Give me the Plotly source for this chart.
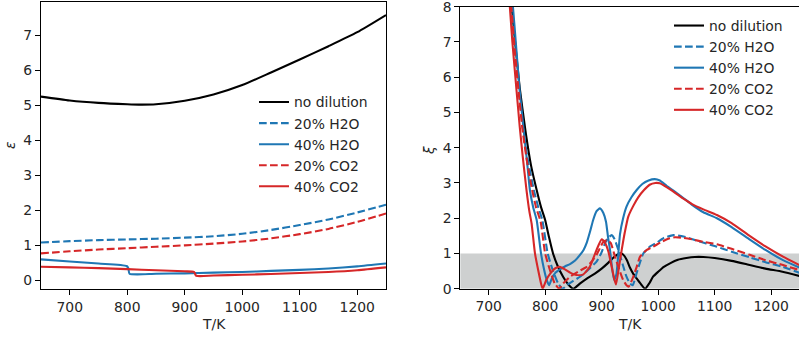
import plotly.graph_objects as go

# ---------------- data: left panel (epsilon vs T) ----------------
T_nodil_L = [650, 700, 750, 800, 820, 850, 900, 950, 1000, 1050, 1100, 1150, 1200, 1250]
eps_nodil = [5.24, 5.13, 5.06, 5.02, 5.01, 5.02, 5.12, 5.30, 5.57, 5.93, 6.30, 6.68, 7.08, 7.57]

T_h2o20_L = [650, 700, 750, 800, 850, 900, 950, 1000, 1050, 1100, 1150, 1200, 1250]
eps_h2o20 = [1.07, 1.11, 1.14, 1.16, 1.18, 1.21, 1.25, 1.32, 1.43, 1.57, 1.73, 1.93, 2.15]

T_h2o40_L = [650, 700, 750, 799, 802, 804, 850, 900, 950, 1000, 1050, 1100, 1150, 1200, 1250]
eps_h2o40 = [0.59, 0.53, 0.47, 0.40, 0.33, 0.18, 0.18, 0.19, 0.21, 0.23, 0.26, 0.29, 0.33, 0.39, 0.47]

T_co220_L = [650, 700, 750, 800, 850, 900, 950, 1000, 1050, 1100, 1150, 1200, 1250]
eps_co220 = [0.76, 0.82, 0.87, 0.91, 0.95, 0.99, 1.04, 1.10, 1.19, 1.31, 1.46, 1.66, 1.90]

T_co240_L = [650, 700, 750, 800, 850, 900, 916, 920, 950, 1000, 1050, 1100, 1150, 1200, 1250]
eps_co240 = [0.38, 0.36, 0.34, 0.31, 0.28, 0.25, 0.23, 0.12, 0.13, 0.15, 0.17, 0.20, 0.23, 0.28, 0.36]

# ---------------- data: right panel (xi vs T) ----------------
T_nodil_R = [736, 741, 748, 755, 765, 775, 785, 793, 800, 807, 814, 822, 832, 841, 850,
             862, 875, 888, 900, 912, 922, 932, 938, 945, 950, 956, 962, 970, 977,
             985, 991, 1000, 1010, 1021, 1035, 1050, 1065, 1080, 1100, 1130, 1160, 1190, 1220, 1250]
xi_nodil = [9.0, 8.0, 6.8, 5.7, 4.5, 3.5, 2.8, 2.3, 1.95, 1.45, 1.0, 0.65, 0.33, 0.12, 0.0,
            0.15, 0.30, 0.43, 0.57, 0.74, 0.90, 1.00, 0.97, 0.80, 0.60, 0.42, 0.29, 0.12, 0.0,
            0.17, 0.34, 0.48, 0.62, 0.72, 0.82, 0.87, 0.90, 0.90, 0.87, 0.79, 0.68, 0.57, 0.48, 0.36]

T_h2o20_R = [735, 741, 747, 754, 761, 770, 780, 788, 795, 804.5, 813, 823, 831,
             840, 850, 861.7, 875, 891, 899, 906, 912, 917.8, 923, 929.5, 937, 944, 950, 955,
             962, 968, 973.7, 985, 997, 1010, 1027, 1045, 1065, 1085, 1104, 1130, 1162, 1190, 1221, 1250]
xi_h2o20 = [9.0, 8.0, 6.8, 5.6, 4.5, 3.6, 2.8, 2.3, 1.95, 1.0, 0.55, 0.15, 0.0,
            0.12, 0.22, 0.34, 0.52, 0.77, 1.0, 1.29, 1.45, 1.52, 1.40, 1.10, 0.70, 0.34, 0.15, 0.10,
            0.45, 0.75, 1.0, 1.19, 1.30, 1.44, 1.52, 1.48, 1.38, 1.28, 1.19, 1.05, 0.89, 0.75, 0.62, 0.45]

T_h2o40_R = [737, 743, 749, 755, 762, 768, 773, 779, 785, 792.7, 798, 802.7, 807,
             812, 818, 826, 835, 844, 853, 861.7, 868, 873.5, 880, 885, 891, 897, 903, 907.7, 911,
             914.8, 918, 922, 926, 932.5, 938, 944, 953, 962, 972, 983, 994, 1003, 1015, 1030,
             1044, 1060, 1080, 1104, 1130, 1160, 1190, 1221, 1250]
xi_h2o40 = [9.0, 8.0, 6.8, 5.6, 4.5, 3.6, 2.8, 2.3, 1.95, 1.0, 0.55, 0.25, 0.10,
            0.30, 0.45, 0.55, 0.63, 0.70, 0.80, 0.96, 1.10, 1.30, 1.65, 1.95, 2.20, 2.28, 2.15, 1.90, 1.50,
            1.10, 0.65, 0.25, 0.40, 1.55, 2.00, 2.33, 2.60, 2.80, 2.97, 3.07, 3.11, 3.07, 2.92, 2.75,
            2.58, 2.38, 2.17, 2.00, 1.75, 1.42, 1.10, 0.81, 0.60]

T_co220_R = [734, 740, 746, 753, 760, 768, 777, 784, 792, 800, 808, 817, 825,
             832, 844, 858, 873.5, 883, 891, 897, 903, 910, 916, 923.6, 931, 938, 944, 948,
             955, 962, 968, 980, 991, 1005, 1018, 1030, 1045, 1060, 1080, 1104, 1130, 1162, 1190, 1221, 1250]
xi_co220 = [9.0, 8.0, 6.8, 5.6, 4.5, 3.6, 2.8, 2.3, 1.9, 1.0, 0.55, 0.15, 0.0,
            0.15, 0.34, 0.48, 0.62, 0.78, 0.96, 1.15, 1.33, 1.38, 1.30, 0.91, 0.55, 0.25, 0.10, 0.06,
            0.30, 0.62, 0.91, 1.10, 1.19, 1.32, 1.42, 1.46, 1.44, 1.40, 1.33, 1.26, 1.13, 0.96, 0.81, 0.67, 0.53]

T_co240_R = [733, 737.5, 742, 749.5, 755, 760, 767, 772, 776, 782, 788, 792.7, 795.6,
             802, 810, 818, 826, 835, 845, 855, 867, 879, 891, 900, 906, 912, 918, 922, 925.4,
             930, 935.5, 941, 947, 956, 965, 975, 985, 995, 1003, 1015, 1030, 1044, 1060, 1080,
             1104, 1130, 1160, 1190, 1221, 1250]
xi_co240 = [9.0, 8.0, 7.0, 5.6, 4.6, 3.8, 2.8, 2.2, 1.85, 1.0, 0.5, 0.15, 0.0,
            0.25, 0.45, 0.58, 0.62, 0.55, 0.45, 0.39, 0.40, 0.62, 1.10, 1.40, 1.30, 1.05, 0.60, 0.30, 0.12,
            0.55, 1.10, 1.60, 2.04, 2.35, 2.60, 2.80, 2.95, 3.00, 2.99, 2.88, 2.72, 2.56, 2.40, 2.25,
            2.09, 1.86, 1.52, 1.20, 0.91, 0.67]

names = ["no dilution", "20% H2O", "40% H2O", "20% CO2", "40% CO2"]
BLACK, BLUE, RED = "#000000", "#1f77b4", "#d62728"
styles = [(BLACK, "solid"), (BLUE, "7.7px,3.3px"), (BLUE, "solid"), (RED, "7.7px,3.3px"), (RED, "solid")]

left_data = [(T_nodil_L, eps_nodil), (T_h2o20_L, eps_h2o20), (T_h2o40_L, eps_h2o40),
             (T_co220_L, eps_co220), (T_co240_L, eps_co240)]
right_data = [(T_nodil_R, xi_nodil), (T_h2o20_R, xi_h2o20), (T_h2o40_R, xi_h2o40),
              (T_co220_R, xi_co220), (T_co240_R, xi_co240)]

W, H = 799, 337
FONT = "DejaVu Sans"
FS = 13.9
TXT = "#262626"

fig = go.Figure()

for (x, y), name, (col, dash) in zip(left_data, names, styles):
    fig.add_trace(go.Scatter(x=x, y=y, mode="lines", name=name, xaxis="x", yaxis="y",
                             line=dict(color=col, width=2.1, dash=dash, shape="spline", smoothing=0.6),
                             legend="legend"))

for (x, y), name, (col, dash) in zip(right_data, names, styles):
    fig.add_trace(go.Scatter(x=x, y=y, mode="lines", name=name, xaxis="x2", yaxis="y2",
                             line=dict(color=col, width=2.1, dash=dash, shape="spline", smoothing=0.5),
                             legend="legend2", cliponaxis=True))

# shaded band xi in [0,1]
fig.add_shape(type="rect", xref="x2 domain", yref="y2", x0=0, x1=1, y0=0, y1=1,
              fillcolor="rgb(206,208,208)", line=dict(width=0), layer="below")

xticks = [700, 800, 900, 1000, 1100, 1200]
common_axis = dict(showline=True, linecolor="black", linewidth=1.1, ticks="outside", ticklen=5,
                   tickwidth=1.1, tickcolor="black", showgrid=False, zeroline=False,
                   tickfont=dict(family=FONT, size=FS, color=TXT), automargin=False,
                   ticklabeloverflow="allow")

fig.update_layout(
    width=W, height=H,
    margin=dict(l=0, r=0, t=0, b=0),
    paper_bgcolor="white", plot_bgcolor="rgba(0,0,0,0)",
    font=dict(family=FONT, size=FS, color=TXT),
    xaxis=dict(domain=[41 / W, 386 / W], range=[650, 1250], tickvals=xticks, mirror=True,
               anchor="y", **common_axis),
    yaxis=dict(domain=[(H - 289) / H, (H - 2) / H], range=[-0.257, 7.943], tickvals=list(range(0, 8)),
               mirror=True, anchor="x", **common_axis),
    xaxis2=dict(domain=[460.4 / W, 1.0], range=[650, 1249.3], tickvals=xticks, mirror=True,
                anchor="y2", **common_axis),
    yaxis2=dict(domain=[(H - 288.7) / H, (H - 6.7) / H], range=[0, 8.001], tickvals=list(range(0, 9)),
                mirror=False, anchor="x2", **common_axis),
    legend=dict(x=254 / W, y=1 - 86.5 / H, xanchor="left", yanchor="top", bgcolor="rgba(0,0,0,0)",
                font=dict(family=FONT, size=FS, color=TXT), itemwidth=30, tracegroupgap=0),
    legend2=dict(x=669 / W, y=1 - 10 / H, xanchor="left", yanchor="top", bgcolor="rgba(0,0,0,0)",
                 font=dict(family=FONT, size=FS, color=TXT), itemwidth=30, tracegroupgap=0),
    showlegend=True,
    annotations=[
        dict(text="T/K", x=213.5 / W, y=1 - 324 / H, xref="paper", yref="paper", showarrow=False,
             font=dict(family=FONT, size=FS, color=TXT), xanchor="center", yanchor="middle"),
        dict(text="T/K", x=630 / W, y=1 - 324 / H, xref="paper", yref="paper", showarrow=False,
             font=dict(family=FONT, size=FS, color=TXT), xanchor="center", yanchor="middle"),
        dict(text="<i>ε</i>", x=10 / W, y=1 - 145 / H, xref="paper", yref="paper", showarrow=False,
             textangle=-90, font=dict(family=FONT, size=FS, color=TXT), xanchor="center", yanchor="middle"),
        dict(text="<i>ξ</i>", x=429 / W, y=1 - 150 / H, xref="paper", yref="paper", showarrow=False,
             textangle=-90, font=dict(family=FONT, size=FS, color=TXT), xanchor="center", yanchor="middle"),
    ],
)

fig.write_html("out.html",
               config={"displayModeBar": False},
               post_script="document.body.style.margin='0';document.body.style.padding='0';"
                           "document.body.style.overflow='hidden';")
